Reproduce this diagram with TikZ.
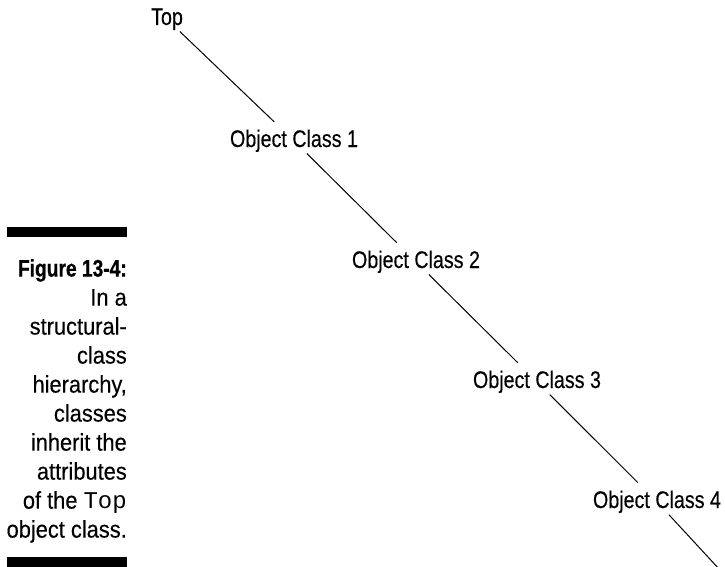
\documentclass[tikz,border=0pt]{standalone}
\usepackage{fontspec}
\setmainfont{Liberation Sans}[FakeStretch=0.82, FakeBold=0.3]
\setmonofont{Liberation Mono}
\newfontfamily\captfont{Liberation Sans}[FakeStretch=0.91, FakeBold=0.3]
\newfontfamily\figfont{Liberation Sans Bold}[FakeStretch=0.8, FakeBold=0.6]
\begin{document}
\begin{tikzpicture}[x=1pt, y=-1pt,
    every node/.style={font=\fontsize{24}{29}\selectfont, inner sep=0pt},
    cls/.style={anchor=base},
    link/.style={black, line width=1pt, shorten <=2pt, shorten >=11pt},
    capt/.style={anchor=north east, align=right,
        font=\captfont\fontsize{24}{29}\selectfont},
]
\useasboundingbox (0,0) rectangle (725,567);

% the hierarchy, one step per level
\node[cls] (top) at (167, 25) {Top};
\node[cls] (oc1) at (294, 147) {Object Class 1};
\node[cls] (oc2) at (416, 268) {Object Class 2};
\node[cls] (oc3) at (537, 388) {Object Class 3};
\node[cls] (oc4) at (657, 508) {Object Class 4};
\coordinate (tail) at (720, 570);

\draw[link] (top) -- (oc1);
\draw[link] (oc1) -- (oc2);
\draw[link] (oc2) -- (oc3);
\draw[link] (oc3) -- (oc4);
\draw[link, shorten >=0pt] (oc4) -- (tail);

% caption at the left, between two bars
\fill[black] (7, 227) rectangle (127, 237);
\node[capt] (caption) at (127, 259)
    {{\figfont Figure 13-4:}\\ In a\\ structural-\\ class\\ hierarchy,\\ classes\\
     inherit the\\ attributes\\ of the \texttt{Top}\\ object class.};
\fill[black] (7, 557) rectangle (127, 567);

\end{tikzpicture}
\end{document}
